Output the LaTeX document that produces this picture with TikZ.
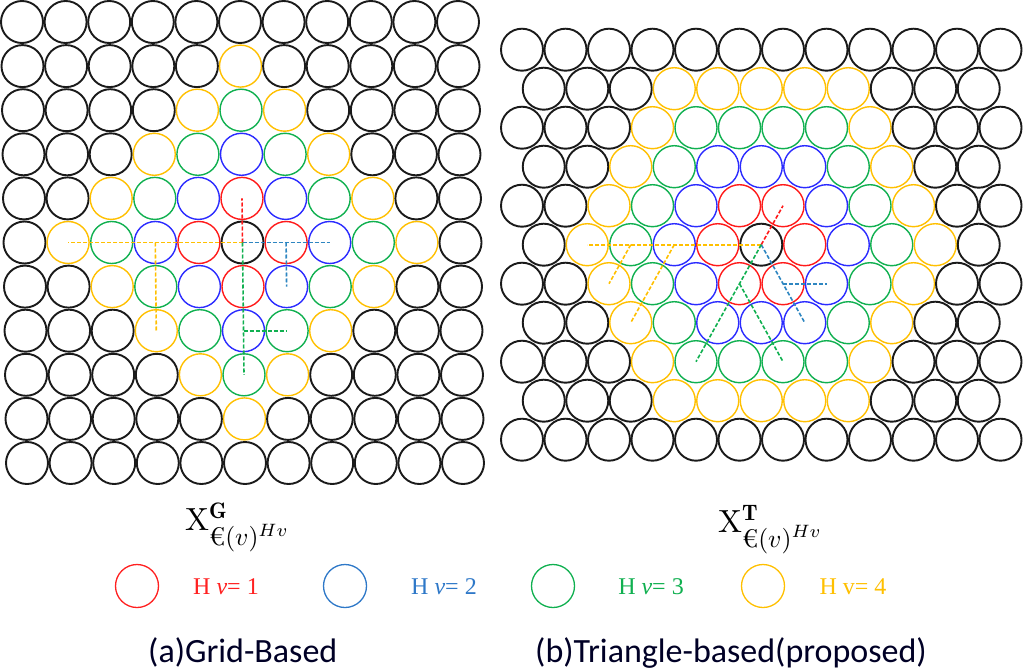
\documentclass[tikz,border=0pt]{standalone}
\usepackage{amsmath}
\usepackage{fontspec}
\newfontfamily\capfont{Carlito}
\newfontfamily\legfont{Liberation Serif}
\definecolor{hop0}{HTML}{1A1A1A}
\definecolor{hop1}{HTML}{FF1A1A}
\definecolor{hop2}{HTML}{2B2BFF}
\definecolor{hop3}{HTML}{10B050}
\definecolor{hop4}{HTML}{FFC000}
\definecolor{hop5}{HTML}{1A1A1A}
\definecolor{lred}{HTML}{FF2020}
\definecolor{lblue}{HTML}{2E78C8}
\definecolor{lgreen}{HTML}{10B050}
\definecolor{lyellow}{HTML}{FFC000}
\definecolor{dblue}{HTML}{2E86C1}
\newcommand{\hopsub}{\mbox{\scalebox{0.8}{$\text{€}(v)^{Hv}$}}}
\tikzset{
  cell/.style={circle, inner sep=0pt, outer sep=0pt, minimum size=42pt},
  legcirc/.style={circle, inner sep=0pt, outer sep=0pt, minimum size=43pt, line width=1.3pt},
  hopline/.style={line width=1.6pt, dash pattern=on 4pt off 2pt},
  leglabel/.style={anchor=base, font=\legfont\fontsize{24}{27}\selectfont},
  caption/.style={anchor=base west, inner sep=0pt, font=\capfont\fontsize{34}{38}\selectfont, text=black!85!blue},
  xlabel/.style={anchor=base west, inner sep=0pt}
}
\begin{document}
\begin{tikzpicture}[x=1pt,y=-1pt]
\useasboundingbox (0,0) rectangle (1024,671);
\fill[white] (0,0) rectangle (1024,671);

% ---- left: grid-based ----
\foreach \r in {1,...,11}{
  \foreach \c in {1,...,11}{
    \pgfmathtruncatemacro\d{min(abs(\r-6)+abs(\c-6),5)}
    \pgfmathsetmacro\lw{(\d==0||\d==5)?1.9:1.4}
    \node[cell, draw=hop\d, line width=\lw pt] (L-\r-\c)
      at ({22+43.6*(\c-1)+0.5*(\r-1)},{22+44.1*(\r-1)}) {};
  }
}

% ---- right: triangle-based ----
\foreach \r in {1,...,11}{
  \pgfmathtruncatemacro\odd{mod(\r,2)}
  \pgfmathtruncatemacro\n{\odd==1?12:11}
  \foreach \i in {1,...,\n}{
    \pgfmathtruncatemacro\xx{\odd==1 ? 2*(\i-1) : 2*\i-1}
    \pgfmathtruncatemacro\dy{abs(\r-6)}
    \pgfmathtruncatemacro\dx{abs(\xx-11)}
    \pgfmathtruncatemacro\d{min(\dy+max(0,(\dx-\dy)/2),5)}
    \pgfmathsetmacro\lw{(\d==0||\d==5)?1.9:1.4}
    \node[cell, draw=hop\d, line width=\lw pt] (R-\r-\i)
      at ({522+43.5*(\i-1)+(1-\odd)*21.75},{49.7+39*(\r-1)}) {};
  }
}

% ---- dashed hop paths, left ----
\draw[hopline, hop4] (L-6-6.center) -- (L-6-2.center);
\draw[hopline, hop4] (L-6-4.center) -- (L-8-4.center);
\draw[hopline, dblue] (L-6-6.center) -- (L-6-8.center);
\draw[hopline, dblue] (L-6-7.center) -- (L-7-7.center);
\draw[hopline, hop1] (L-6-6.center) -- (L-5-6.center);
\draw[hopline, hop3] (L-6-6.center) -- (L-9-6.center);
\draw[hopline, hop3] (L-8-6.center) -- (L-8-7.center);

% ---- dashed hop paths, right ----
\draw[hopline, hop4] (R-6-6.center) -- (R-6-2.center);
\draw[hopline, hop4] (R-6-3.center) -- (R-7-3.center);
\draw[hopline, hop4] (R-6-4.center) -- (R-8-3.center);
\draw[hopline, hop1] (R-6-6.center) -- (R-5-7.center);
\draw[hopline, dblue] (R-6-6.center) -- (R-8-7.center);
\draw[hopline, dblue] (R-7-7.center) -- (R-7-8.center);
\draw[hopline, hop3] (R-6-6.center) -- (R-9-5.center);
\draw[hopline, hop3] (R-7-6.center) -- (R-9-7.center);

% ---- formula labels ----
\node[xlabel] (xg) at (185,530) {\scalebox{3.2}{$\mathrm{X}^{\mathbf{G}}_{\hopsub}$}};
\node[xlabel] (xt) at (718,532) {\scalebox{3.2}{$\mathrm{X}^{\mathbf{T}}_{\hopsub}$}};

% ---- legend ----
\node[legcirc, draw=lred] (leg1) at (137,586) {};
\node[legcirc, draw=lblue] (leg2) at (345,586) {};
\node[legcirc, draw=lgreen] (leg3) at (553,586) {};
\node[legcirc, draw=lyellow] (leg4) at (763,586) {};
\node[leglabel, text=lred] (lab1) at (226,594) {H \textit{v}= 1};
\node[leglabel, text=lblue] (lab2) at (444,594) {H \textit{v}= 2};
\node[leglabel, text=lgreen] (lab3) at (651,594) {H \textit{v}= 3};
\node[leglabel, text=lyellow] (lab4) at (853,594) {H v= 4};

% ---- captions ----
\node[caption] (capa) at (148,662) {(a)Grid-Based};
\node[caption] (capb) at (535,662) {(b)Triangle-based(proposed)};
\end{tikzpicture}
\end{document}
